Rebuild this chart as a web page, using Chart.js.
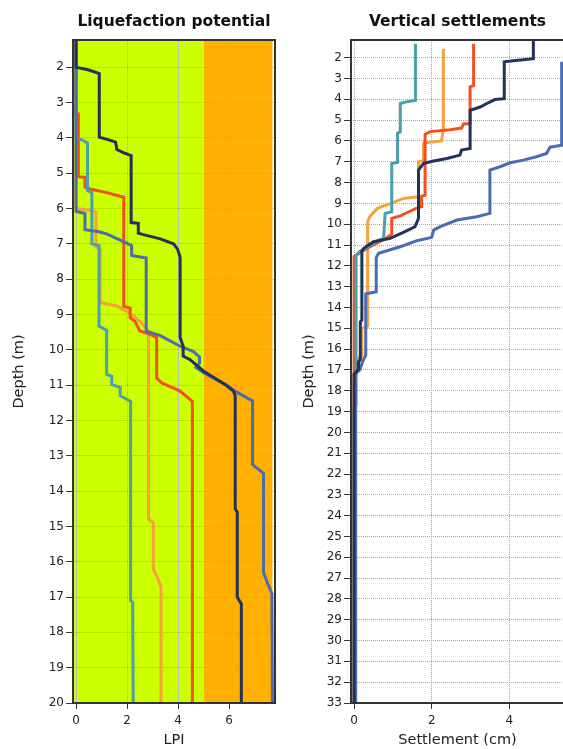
<!DOCTYPE html>
<html>
<head>
<meta charset="utf-8">
<script src="https://cdn.jsdelivr.net/npm/chart.js@4.4.0/dist/chart.umd.min.js"></script>
<style>
  html, body { margin: 0; padding: 0; background: #fff; overflow: hidden; }
  #wrap { position: relative; width: 563px; height: 749px; overflow: hidden; }
  #lpiBox { position: absolute; left: 0; top: 0; width: 290px; height: 749px; }
  #setBox { position: absolute; left: 290px; top: 0; width: 280px; height: 749px; }
</style>
</head>
<body>
<div id="wrap">
  <div id="lpiBox"><canvas id="lpiChart" width="290" height="749"></canvas></div>
  <div id="setBox"><canvas id="setChart" width="280" height="749"></canvas></div>
</div>
<script>
// Liquefaction potential (LPI vs depth)
var lpiNavyDepth = [1.23, 2.0, 2.08, 2.18, 3.98, 4.05, 4.12, 4.33, 4.42, 4.5, 6.4, 6.42, 6.7, 6.74, 6.86, 7.0, 7.15, 7.38, 9.65, 9.9, 10.18, 10.28, 10.6, 10.98, 11.17, 11.3, 14.5, 14.6, 17.0, 17.2, 20];
var lpiNavy      = [0, 0, 0.5, 0.91, 0.91, 1.25, 1.55, 1.6, 1.85, 2.16, 2.16, 2.44, 2.44, 2.64, 3.3, 3.82, 3.98, 4.08, 4.08, 4.2, 4.2, 4.47, 4.99, 5.84, 6.17, 6.24, 6.24, 6.32, 6.32, 6.48, 6.48];
var lpiSteelDepth = [1.23, 6.08, 6.14, 6.6, 6.65, 6.72, 6.85, 6.95, 7.05, 7.33, 7.4, 9.47, 9.6, 9.9, 10.05, 10.2, 10.38, 10.5, 10.65, 11.0, 11.2, 11.45, 13.25, 13.5, 16.3, 16.6, 16.9, 20];
var lpiSteel      = [0, 0, 0.35, 0.35, 0.85, 1.2, 1.6, 1.9, 2.18, 2.18, 2.75, 2.75, 3.3, 4.08, 4.6, 4.84, 4.84, 4.7, 5.0, 5.9, 6.3, 6.92, 6.92, 7.35, 7.35, 7.5, 7.68, 7.7];
var lpiTealDepth = [1.23, 4.0, 4.08, 4.15, 5.5, 5.55, 7.0, 7.05, 9.33, 9.45, 10.7, 10.75, 10.98, 11.07, 11.3, 11.46, 17.1, 17.15, 20];
var lpiTeal      = [0, 0, 0.3, 0.45, 0.45, 0.62, 0.62, 0.9, 0.9, 1.2, 1.2, 1.4, 1.4, 1.73, 1.73, 2.14, 2.14, 2.22, 2.24];
var lpiOrangeDepth = [1.23, 6.0, 6.05, 6.1, 7.1, 7.15, 8.63, 8.67, 8.76, 9.0, 9.19, 9.47, 14.8, 14.9, 16.2, 16.4, 16.7, 20];
var lpiOrange      = [0, 0, 0.55, 0.78, 0.78, 0.95, 0.95, 1.0, 1.6, 2.18, 2.5, 2.84, 2.84, 3.03, 3.03, 3.16, 3.33, 3.33];
var lpiRedDepth = [1.23, 3.3, 3.32, 5.1, 5.12, 5.4, 5.45, 5.55, 5.68, 8.77, 8.82, 9.09, 9.19, 9.47, 9.56, 9.66, 10.8, 10.94, 11.17, 11.46, 20];
var lpiRed      = [0, 0, 0.09, 0.09, 0.35, 0.35, 0.55, 1.2, 1.87, 1.87, 2.12, 2.12, 2.31, 2.5, 2.9, 3.16, 3.16, 3.36, 4.08, 4.56, 4.56];
var lpiZoneEdges = [5, 7.7];
var lpiTicks = [0, 2, 4, 6];
var lpiDepthTicks = [2, 3, 4, 5, 6, 7, 8, 9, 10, 11, 12, 13, 14, 15, 16, 17, 18, 19, 20];

// Vertical settlements (cm vs depth)
var setNavyDepth = [1.15, 2.05, 2.15, 2.2, 3.97, 4.01, 4.2, 4.37, 4.53, 6.36, 6.44, 6.68, 6.84, 6.96, 7.08, 7.4, 9.72, 10.12, 10.36, 10.68, 10.84, 11.16, 11.3, 14.6, 14.7, 16.5, 16.6, 17.0, 17.2, 33];
var setNavy      = [4.62, 4.62, 4.1, 3.87, 3.87, 3.63, 3.42, 3.25, 2.99, 2.99, 2.77, 2.73, 2.39, 2.05, 1.79, 1.66, 1.66, 1.57, 1.31, 0.93, 0.5, 0.25, 0.2, 0.2, 0.16, 0.16, 0.12, 0.11, 0, 0];
var setSteelDepth = [2.2, 6.2, 6.3, 6.6, 6.76, 6.92, 7.05, 7.24, 7.4, 9.48, 9.64, 9.8, 10.12, 10.28, 10.63, 10.79, 11.08, 11.4, 11.6, 13.24, 13.35, 16.3, 16.6, 17.0, 17.1, 33];
var setSteel      = [5.35, 5.35, 5.05, 4.96, 4.7, 4.36, 4.02, 3.76, 3.5, 3.5, 3.16, 2.65, 2.22, 2.05, 2.0, 1.62, 1.19, 0.63, 0.57, 0.57, 0.3, 0.3, 0.22, 0.15, 0.04, 0.04];
var setTealDepth = [1.33, 4.05, 4.1, 4.2, 5.57, 5.62, 7.03, 7.08, 9.4, 9.48, 10.68, 10.85, 11.1, 11.3, 11.5, 18.7, 18.8, 33];
var setTeal      = [1.58, 1.58, 1.4, 1.19, 1.19, 1.12, 1.12, 0.97, 0.97, 0.8, 0.76, 0.54, 0.35, 0.15, 0.05, 0.05, 0, 0];
var setOrangeDepth = [1.57, 5.5, 6.0, 6.1, 6.93, 7.0, 8.68, 8.76, 9.0, 9.24, 9.64, 9.88, 14.9, 15.0, 16.35, 16.45, 17.1, 17.2, 33];
var setOrange      = [2.3, 2.3, 2.25, 1.79, 1.79, 1.66, 1.66, 1.27, 0.95, 0.6, 0.4, 0.35, 0.35, 0.2, 0.2, 0.1, 0.1, 0, 0];
var setRedDepth = [1.33, 3.33, 3.4, 5.16, 5.18, 5.38, 5.46, 5.55, 5.68, 8.6, 8.66, 9.16, 9.26, 9.45, 9.6, 9.72, 10.48, 10.7, 10.84, 11.2, 11.55, 33];
var setRed      = [3.08, 3.08, 2.99, 2.99, 2.82, 2.77, 2.47, 1.96, 1.83, 1.83, 1.74, 1.74, 1.57, 1.36, 1.19, 0.97, 0.97, 0.8, 0.65, 0.3, 0, 0];
var setTicks = [0, 2, 4];
var setDepthTicks = [2, 3, 4, 5, 6, 7, 8, 9, 10, 11, 12, 13, 14, 15, 16, 17, 18, 19, 20, 21, 22, 23, 24, 25, 26, 27, 28, 29, 30, 31, 32, 33];

var NAVY = '#22325a', STEEL = '#4b6cae', TEAL = '#4b9fae', ORANGE = '#f7a03c', RED = '#f2501c';
var FONT = '"DejaVu Sans", Verdana, sans-serif';
var tickFont = { family: FONT, size: 12 };
var axisFont = { family: FONT, size: 14.5 };
var titleFont = { family: FONT, size: 15.5, weight: 'bold' };

function profile(depths, values) {
    return depths.map(function (d, i) { return { x: values[i], y: d }; });
}

function line(depths, values, color) {
    return {
        data: profile(depths, values),
        borderColor: color,
        borderWidth: 3,
        pointRadius: 0,
        tension: 0,
        fill: false
    };
}

// background zones for the LPI plot
var zonePlugin = {
    id: 'zones',
    beforeDraw: function (chart) {
        var x = chart.scales.x, a = chart.chartArea, ctx = chart.ctx;
        var colors = ['#ccff00', '#ffb000'];
        var from = x.min;
        ctx.save();
        for (var i = 0; i < lpiZoneEdges.length; i++) {
            var x0 = x.getPixelForValue(from), x1 = x.getPixelForValue(lpiZoneEdges[i]);
            ctx.fillStyle = colors[i];
            ctx.fillRect(x0, a.top, x1 - x0, a.bottom - a.top);
            from = lpiZoneEdges[i];
        }
        ctx.restore();
    }
};

var framePlugin = {
    id: 'frame',
    afterDraw: function (chart) {
        var a = chart.chartArea, ctx = chart.ctx;
        ctx.save();
        ctx.strokeStyle = '#333';
        ctx.lineWidth = 2;
        ctx.strokeRect(a.left, a.top, a.right - a.left, a.bottom - a.top);
        ctx.restore();
    }
};

function depthAxis(min, max, ticks, width) {
    return {
        type: 'linear',
        reverse: true,
        min: min,
        max: max,
        afterBuildTicks: function (s) { s.ticks = ticks.map(function (v) { return { value: v }; }); },
        afterFit: function (s) { s.width = width; },
        grid: { color: '#a8a8a8', tickColor: '#333', tickLength: 7, lineWidth: 1 },
        border: { display: false, dash: [1, 1] },
        ticks: { font: tickFont, color: '#222', padding: 2, autoSkip: false },
        title: { display: true, text: 'Depth (m)', font: axisFont, color: '#222', padding: { top: 11, bottom: 0 } }
    };
}

function valueAxis(min, max, ticks, label) {
    return {
        type: 'linear',
        min: min,
        max: max,
        afterBuildTicks: function (s) { s.ticks = ticks.map(function (v) { return { value: v }; }); },
        afterFit: function (s) { s.height = 46; },
        grid: { color: '#a8a8a8', tickColor: '#333', tickLength: 6, lineWidth: 1 },
        border: { display: false, dash: [1, 1] },
        ticks: { font: tickFont, color: '#222', padding: 5, maxRotation: 0, autoSkip: false },
        title: { display: true, text: label, font: axisFont, color: '#222', padding: { top: 0, bottom: 0 } }
    };
}

function options(title, xAxis, yAxis, padRight) {
    return {
        responsive: false,
        animation: false,
        indexAxis: 'y',
        layout: { padding: { left: 0, right: padRight, top: 0, bottom: 0 } },
        plugins: {
            legend: { display: false },
            tooltip: { enabled: false },
            title: {
                display: true,
                text: title,
                fullSize: false,
                font: titleFont,
                color: '#111',
                padding: { top: 13, bottom: 8.4 }
            }
        },
        scales: { x: xAxis, y: yAxis }
    };
}

window.onload = function () {
    new Chart(document.getElementById('lpiChart').getContext('2d'), {
        type: 'line',
        data: {
            datasets: [
                line(lpiNavyDepth, lpiNavy, NAVY),
                line(lpiSteelDepth, lpiSteel, STEEL),
                line(lpiTealDepth, lpiTeal, TEAL),
                line(lpiRedDepth, lpiRed, RED),
                line(lpiOrangeDepth, lpiOrange, ORANGE)
            ]
        },
        options: options('Liquefaction potential',
            valueAxis(-0.12, 7.8, lpiTicks, 'LPI'),
            depthAxis(1.23, 20, lpiDepthTicks, 73), 15),
        plugins: [zonePlugin, framePlugin]
    });

    new Chart(document.getElementById('setChart').getContext('2d'), {
        type: 'line',
        data: {
            datasets: [
                line(setNavyDepth, setNavy, NAVY),
                line(setSteelDepth, setSteel, STEEL),
                line(setTealDepth, setTeal, TEAL),
                line(setRedDepth, setRed, RED),
                line(setOrangeDepth, setOrange, ORANGE)
            ]
        },
        options: options('Vertical settlements',
            valueAxis(-0.08, 5.41, setTicks, 'Settlement (cm)'),
            depthAxis(1.15, 33, setDepthTicks, 61), 6),
        plugins: [framePlugin]
    });
};
</script>
</body>
</html>
